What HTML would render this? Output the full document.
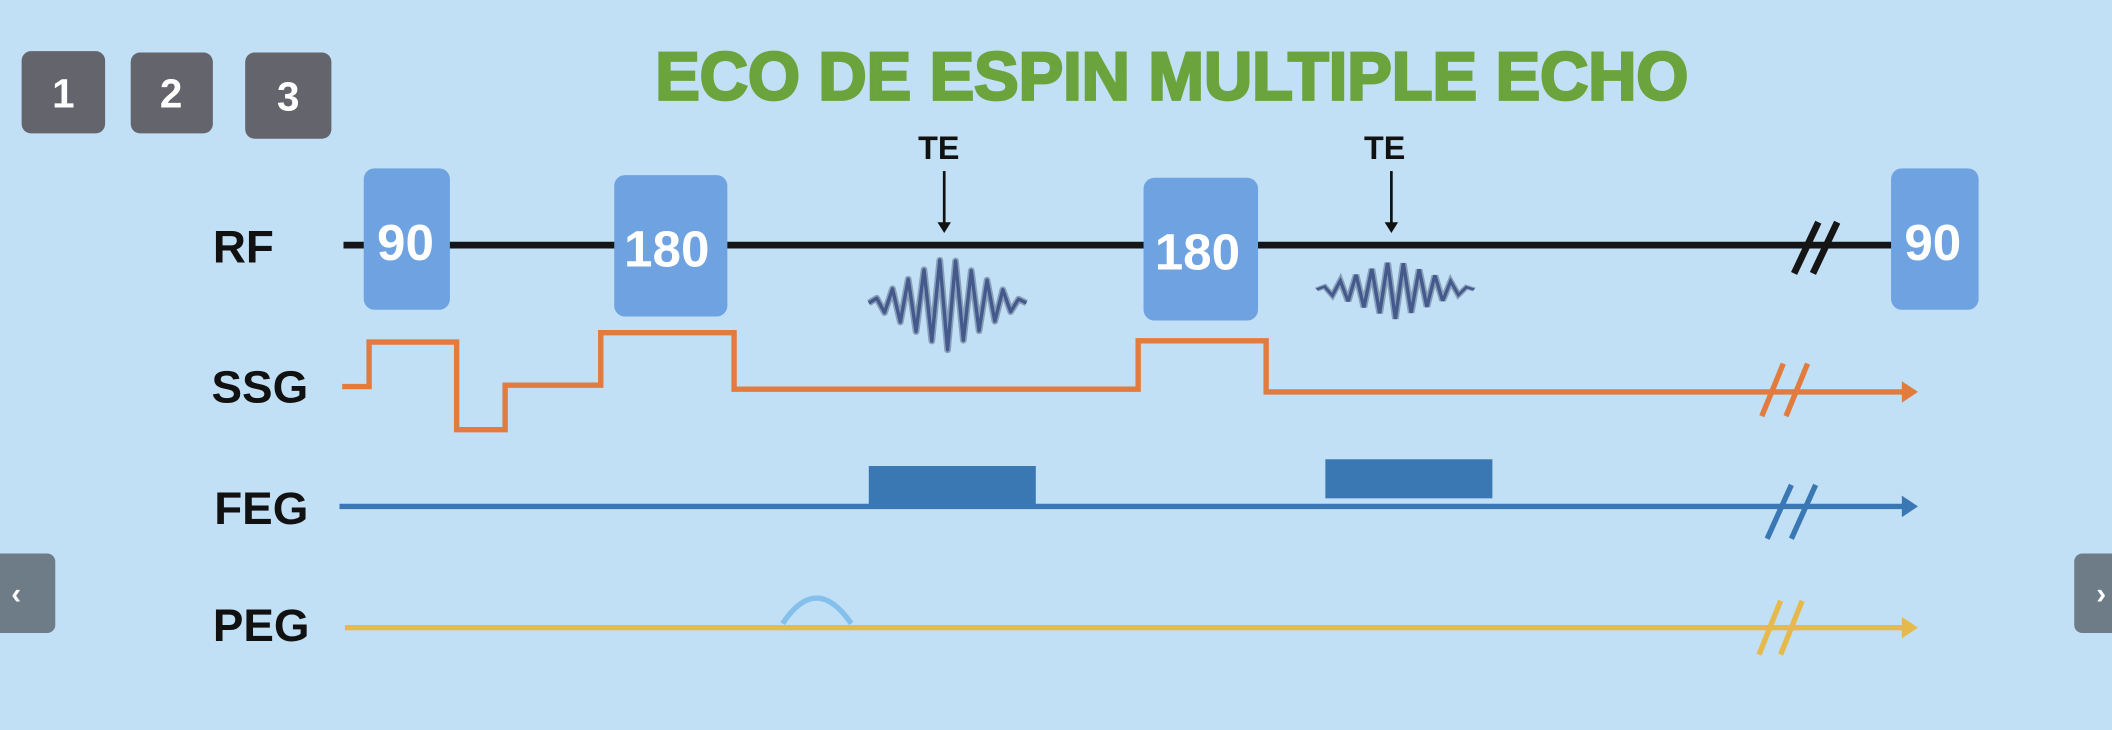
<!DOCTYPE html>
<html><head><meta charset="utf-8"><style>
html,body{margin:0;padding:0;background:#c2e0f5;}
svg{display:block;}
text{font-family:"Liberation Sans",sans-serif;font-weight:bold;}
</style></head><body>
<svg width="2112" height="730" viewBox="0 0 1568 542" xmlns="http://www.w3.org/2000/svg">
<rect width="1568" height="542" fill="#c2e0f5"/>
<!-- buttons -->
<rect x="16" y="38" width="62" height="61" rx="7" fill="#64646c"/>
<text x="47" y="80" font-size="30" fill="#fff" text-anchor="middle">1</text>
<rect x="97" y="39" width="61" height="60" rx="7" fill="#64646c"/>
<text x="127" y="80" font-size="30" fill="#fff" text-anchor="middle">2</text>
<rect x="182" y="39" width="64" height="64" rx="7" fill="#64646c"/>
<text x="214" y="82" font-size="30" fill="#fff" text-anchor="middle">3</text>
<rect x="-8" y="411" width="49" height="59" rx="6" fill="#6e7c88"/>
<text x="12" y="448" font-size="22" fill="#fff" text-anchor="middle">‹</text>
<rect x="1540" y="411" width="40" height="59" rx="6" fill="#6e7c88"/>
<text x="1560" y="448" font-size="22" fill="#fff" text-anchor="middle">›</text>
<!-- title -->
<text x="870" y="74" font-size="50" fill="#6ba33c" text-anchor="middle" textLength="767" lengthAdjust="spacingAndGlyphs" stroke="#6ba33c" stroke-width="2">ECO DE ESPIN MULTIPLE ECHO</text>
<!-- labels -->
<g font-size="34" fill="#111">
<text x="158" y="195">RF</text>
<text x="157" y="299">SSG</text>
<text x="159" y="389">FEG</text>
<text x="158" y="476">PEG</text>
</g>
<!-- RF line -->
<line x1="255" y1="182" x2="1405" y2="182" stroke="#151515" stroke-width="5"/>
<line x1="1332" y1="203" x2="1350" y2="165" stroke="#151515" stroke-width="5"/>
<line x1="1346" y1="203" x2="1364" y2="165" stroke="#151515" stroke-width="5"/>
<!-- TE -->
<text x="697" y="118" font-size="24" fill="#111" text-anchor="middle">TE</text>
<line x1="701" y1="127" x2="701" y2="166" stroke="#111" stroke-width="2"/>
<polygon points="696,165 706,165 701,173" fill="#111"/>
<text x="1028" y="118" font-size="24" fill="#111" text-anchor="middle">TE</text>
<line x1="1033" y1="127" x2="1033" y2="166" stroke="#111" stroke-width="2"/>
<polygon points="1028,165 1038,165 1033,173" fill="#111"/>
<!-- boxes -->
<g fill="#6fa2e0">
<rect x="270" y="125" width="64" height="105" rx="8"/>
<rect x="456" y="130" width="84" height="105" rx="8"/>
<rect x="849" y="132" width="85" height="106" rx="8"/>
<rect x="1404" y="125" width="65" height="105" rx="8"/>
</g>
<g font-size="38" fill="#fff" text-anchor="middle" font-weight="normal">
<text x="301" y="193" style="font-weight:bold">90</text>
<text x="495" y="198" style="font-weight:bold">180</text>
<text x="889" y="200" style="font-weight:bold">180</text>
<text x="1435" y="193" style="font-weight:bold">90</text>
</g>
<!-- echoes -->
<g id="echo" fill="none" stroke-linejoin="round">
<polyline id="w" points="645,225 650.9,221.4 656.7,232.1 662.6,214.4 668.4,239.1 674.3,207.3 680.1,246.2 686,200.3 691.8,253.2 697.7,193.2 703.5,259.7 709.4,193.8 715.2,252.6 721.1,200.9 726.9,245.6 732.8,208 738.6,238.5 744.5,215.1 750.3,231.4 756.2,222.1 762,225" stroke="#8aa0b8" stroke-width="5"/>
<polyline points="645,225 650.9,221.4 656.7,232.1 662.6,214.4 668.4,239.1 674.3,207.3 680.1,246.2 686,200.3 691.8,253.2 697.7,193.2 703.5,259.7 709.4,193.8 715.2,252.6 721.1,200.9 726.9,245.6 732.8,208 738.6,238.5 744.5,215.1 750.3,231.4 756.2,222.1 762,225" stroke="#44598c" stroke-width="2.5"/>
</g>
<g transform="translate(1036 215) scale(1 0.63) translate(-703.5 -225)">
<polyline points="645,225 650.9,221.4 656.7,232.1 662.6,214.4 668.4,239.1 674.3,207.3 680.1,246.2 686,200.3 691.8,253.2 697.7,193.2 703.5,259.7 709.4,193.8 715.2,252.6 721.1,200.9 726.9,245.6 732.8,208 738.6,238.5 744.5,215.1 750.3,231.4 756.2,222.1 762,225" fill="none" stroke="#8aa0b8" stroke-width="5"/>
<polyline points="645,225 650.9,221.4 656.7,232.1 662.6,214.4 668.4,239.1 674.3,207.3 680.1,246.2 686,200.3 691.8,253.2 697.7,193.2 703.5,259.7 709.4,193.8 715.2,252.6 721.1,200.9 726.9,245.6 732.8,208 738.6,238.5 744.5,215.1 750.3,231.4 756.2,222.1 762,225" fill="none" stroke="#44598c" stroke-width="2.5"/>
</g>
<!-- SSG -->
<polyline points="254,287 274,287 274,254 339,254 339,319 375,319 375,286 446,286 446,247 545,247 545,289 845,289 845,253 940,253 940,291 1416,291" fill="none" stroke="#e27b3e" stroke-width="4"/>
<polygon points="1412,283 1424,291 1412,299" fill="#e27b3e"/>
<line x1="1308" y1="309" x2="1324" y2="270" stroke="#e27b3e" stroke-width="4"/>
<line x1="1326" y1="309" x2="1342" y2="270" stroke="#e27b3e" stroke-width="4"/>
<!-- FEG -->
<line x1="252" y1="376" x2="1416" y2="376" stroke="#3a78b4" stroke-width="4"/>
<polygon points="1412,368 1424,376 1412,384" fill="#3a78b4"/>
<rect x="645" y="346" width="124" height="30" fill="#3a78b4"/>
<rect x="984" y="341" width="124" height="29" fill="#3a78b4"/>
<line x1="1312" y1="400" x2="1330" y2="360" stroke="#3a78b4" stroke-width="4"/>
<line x1="1330" y1="400" x2="1348" y2="360" stroke="#3a78b4" stroke-width="4"/>
<!-- PEG -->
<line x1="256" y1="466" x2="1416" y2="466" stroke="#e6b94c" stroke-width="4"/>
<polygon points="1412,458 1424,466 1412,474" fill="#e6b94c"/>
<path d="M581,463 Q606,425 632,463" fill="none" stroke="#85c0ec" stroke-width="4"/>
<line x1="1306" y1="486" x2="1322" y2="446" stroke="#e6b94c" stroke-width="4"/>
<line x1="1322" y1="486" x2="1338" y2="446" stroke="#e6b94c" stroke-width="4"/>
</svg>
</body></html>
